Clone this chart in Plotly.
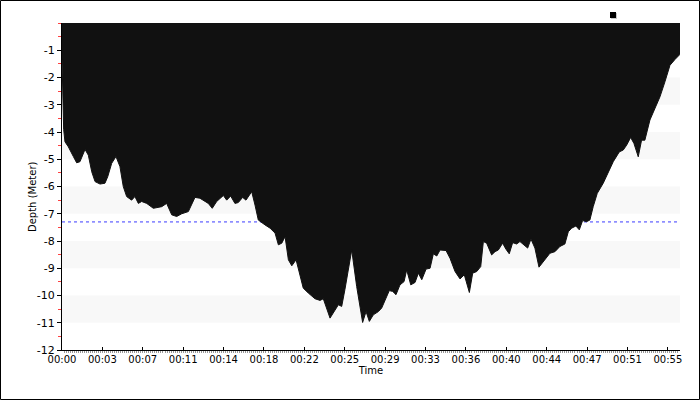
import plotly.graph_objects as go

# ---- data ----
time_min = [0.0, 0.08, 0.15, 0.27, 0.57, 1.03, 1.33, 1.63, 2.09, 2.39, 2.7, 3.0, 3.45, 3.9, 4.15,
            4.51, 4.9, 5.26, 5.56, 5.87, 6.32, 6.62, 6.93, 7.23, 7.69, 8.29, 9.05, 9.5, 9.96,
            10.41, 10.87, 11.47, 12.07, 12.52, 12.98, 13.28, 13.64, 14.04, 14.65, 14.95, 15.31,
            15.7, 16.0, 16.4, 16.7, 17.22, 17.52, 17.82, 18.43, 18.89, 19.34, 19.64, 19.95,
            20.25, 20.55, 20.86, 21.25, 21.6, 21.9, 22.36, 22.97, 23.42, 23.72, 24.33, 24.79,
            25.09, 25.39, 25.68, 26.3, 26.75, 27.29, 27.6, 27.9, 28.26, 28.72, 29.02, 29.71,
            30.02, 30.32, 30.68, 31.05, 31.29, 31.66, 32.05, 32.35, 32.66, 33.05, 33.41, 33.71,
            34.02, 34.32, 34.86, 35.22, 35.68, 36.13, 36.52, 36.98, 37.28, 37.65, 38.01, 38.25,
            38.55, 39.0, 39.31, 39.61, 40.0, 40.3, 40.6, 40.91, 41.27, 41.57, 42.03, 42.27,
            42.57, 42.93, 43.3, 43.69, 44.29, 44.75, 45.2, 45.65, 45.96, 46.26, 46.65, 46.96,
            47.26, 47.62, 47.92, 48.22, 48.59, 49.13, 49.59, 50.04, 50.59, 50.95, 51.26, 51.62,
            51.92, 52.31, 52.61, 52.91, 53.37, 53.82, 54.28, 54.73, 55.19, 55.64, 55.97, 56.1]
depth_m = [-1.3, -2.8, -3.9, -4.36, -4.54, -4.9, -5.13, -5.09, -4.64, -4.85, -5.46, -5.82, -5.91,
           -5.88, -5.64, -5.15, -4.9, -5.27, -6.0, -6.37, -6.5, -6.37, -6.62, -6.55, -6.62, -6.8,
           -6.74, -6.62, -7.04, -7.1, -7.0, -6.92, -6.4, -6.43, -6.55, -6.62, -6.8, -6.55, -6.33,
           -6.5, -6.35, -6.62, -6.59, -6.4, -6.5, -6.19, -6.68, -7.23, -7.41, -7.53, -7.71,
           -8.14, -8.08, -7.84, -8.69, -8.91, -8.69, -9.24, -9.73, -9.91, -10.12, -10.18,
           -10.12, -10.83, -10.52, -10.34, -10.4, -9.79, -8.33, -9.67, -10.99, -10.59, -10.95,
           -10.71, -10.59, -10.46, -9.82, -9.85, -9.97, -9.61, -9.49, -9.06, -9.61, -9.52,
           -9.18, -9.42, -9.03, -9.0, -8.47, -8.55, -8.33, -8.35, -8.63, -9.12, -9.39, -9.24,
           -9.89, -9.18, -9.12, -8.94, -8.02, -8.08, -8.51, -8.39, -8.33, -8.08, -8.3, -8.47,
           -8.06, -8.11, -8.02, -8.18, -8.26, -7.93, -8.26, -8.96, -8.75, -8.45, -8.39, -8.2,
           -8.11, -7.66, -7.53, -7.45, -7.59, -7.25, -7.29, -7.23, -6.74, -6.25, -5.88, -5.46,
           -5.09, -4.73, -4.66, -4.48, -4.2, -4.42, -4.91, -4.3, -4.3, -3.56, -3.14, -2.71,
           -2.16, -1.55, -1.34, -1.18, -1.15]
mean_depth = -7.3
x_tick_step = 11 / 3  # 220 s
x_tick_labels = ["00:00", "00:03", "00:07", "00:11", "00:14", "00:18", "00:22", "00:25",
                 "00:29", "00:33", "00:36", "00:40", "00:44", "00:47", "00:51", "00:55"]
y_tick_vals = [-1, -2, -3, -4, -5, -6, -7, -8, -9, -10, -11, -12]
x_max = 56.1

FONT = "DejaVu Sans"
x_tick_vals = [i * x_tick_step for i in range(len(x_tick_labels))]

fig = go.Figure()

# mean depth line (under the area)
fig.add_trace(go.Scatter(x=[0, x_max], y=[mean_depth, mean_depth], mode="lines",
                         line=dict(color="#3b3bff", width=1, dash="dot"),
                         hoverinfo="skip", showlegend=False))

# depth area, filled up to 0 (the top)
fig.add_trace(go.Scatter(x=time_min, y=depth_m, mode="lines", fill="tozeroy",
                         fillcolor="#111111", line=dict(color="#111111", width=1),
                         showlegend=False))

shapes = []
# alternating light bands
for top in [-2, -4, -6, -8, -10, 0]:
    shapes.append(dict(type="rect", xref="paper", yref="y", x0=0, x1=1, y0=top, y1=top - 1,
                       fillcolor="#f8f8f8", line=dict(width=0), layer="below"))

# legend marker (square with shadow), top right
W, H, L, T, B = 700, 400, 62, 23, 50
pw, ph = W - L - 20, H - T - B
def px(xp):
    return (xp - L) / pw
def py(yp):
    return (H - B - yp) / ph
shapes.append(dict(type="rect", xref="paper", yref="paper", x0=px(611), x1=px(617),
                   y0=py(13), y1=py(19), fillcolor="#c8c8c8", line=dict(width=0)))
shapes.append(dict(type="rect", xref="paper", yref="paper", x0=px(610), x1=px(616),
                   y0=py(12), y1=py(18), fillcolor="#000000", line=dict(width=0)))
# outer frame
shapes.append(dict(type="rect", xref="paper", yref="paper", x0=px(0.5), x1=px(699.5),
                   y0=py(0.5), y1=py(399.5), line=dict(color="#000000", width=1),
                   fillcolor="rgba(0,0,0,0)"))

fig.update_layout(
    width=W, height=H,
    margin=dict(l=L, r=20, t=T, b=B),
    paper_bgcolor="white", plot_bgcolor="white",
    font=dict(family=FONT, size=10, color="#000000"),
    shapes=shapes,
    showlegend=False,
    xaxis=dict(range=[0, x_max], tickvals=x_tick_vals, ticktext=x_tick_labels,
               showgrid=False, zeroline=False, showline=True, linecolor="#000000",
               linewidth=1, ticks="inside", ticklen=3, tickcolor="#000000",
               tickfont=dict(family=FONT, size=10, color="#000000"),
               minor=dict(dtick=x_tick_step / 20, tick0=0, ticks="outside", ticklen=2,
                          tickcolor="#999999"),
               title=dict(text="Time", standoff=0, font=dict(family=FONT, size=10))),
    yaxis=dict(range=[-12, 0], tickvals=y_tick_vals, ticktext=[str(v) for v in y_tick_vals],
               showgrid=False, zeroline=False, showline=True, linecolor="#000000",
               linewidth=1, ticks="outside", ticklen=4, tickcolor="#000000",
               tickfont=dict(family=FONT, size=11, color="#000000"),
               minor=dict(dtick=0.5, tick0=0.5, ticks="outside", ticklen=3,
                          tickcolor="#ff4040")),
    annotations=[dict(text="Depth (Meter)", textangle=-90, xref="paper", yref="paper",
                      x=px(33), y=py(197), xanchor="center", yanchor="middle",
                      showarrow=False, font=dict(family=FONT, size=10, color="#000000"))],
)

fig.write_html("out.html", config={"displayModeBar": False},
               post_script="document.body.style.margin='0';")
